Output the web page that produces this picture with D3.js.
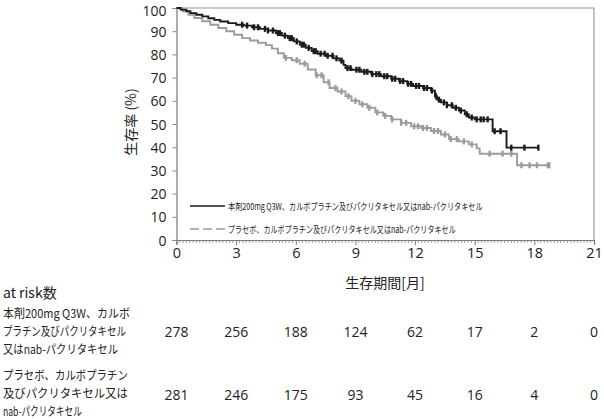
<!DOCTYPE html>
<html><head><meta charset="utf-8">
<script src="https://cdn.jsdelivr.net/npm/d3@7"></script>
<style>body{margin:0;background:#fff}svg{display:block}text{font-family:"Noto Sans CJK JP","Noto Sans",sans-serif;fill:#222}text.num{font-family:"Open Sans","Noto Sans",sans-serif}</style>
</head><body><svg id="c" width="604" height="419"></svg>
<script>
// Kaplan-Meier step data (months, survival %)
const pembroTimes = [0,0.2,0.5,0.7,1.0,1.3,1.6,1.9,2.2,2.6,3.0,3.4,3.8,4.2,4.6,5.0,5.3,5.6,5.9,6.2,6.5,6.8,7.1,7.5,7.9,8.2,8.4,8.5,8.8,9.3,9.8,10.3,10.8,11.2,11.6,11.9,12.4,12.8,13.0,13.1,13.3,13.6,13.9,14.2,14.5,14.7,15.0,15.9,16.6,18.2];
const pembroSurv  = [100,99.3,98.6,97.8,97.1,96.4,95.6,94.9,94.2,93.5,92.8,92.4,91.7,91.0,90.3,89.2,88.1,87.0,85.6,84.2,82.8,81.4,80.3,79.4,78.3,77.3,75.5,74.1,73.4,72.5,71.5,70.6,69.5,68.5,67.3,66.4,65.5,64.4,62.0,60.5,59.3,58.1,57.0,55.8,54.2,52.8,52.0,46.9,39.8,39.8];
const pembroCensor = [3.3,3.55,3.9,4.1,4.45,4.6,4.85,5.1,5.2,5.45,5.7,5.8,6.05,6.3,6.4,6.65,6.9,7.0,7.25,7.45,7.6,7.85,8.05,8.3,8.6,8.75,9.05,9.2,9.45,9.6,9.85,10.05,10.2,10.45,10.6,10.85,11.0,11.25,11.4,11.65,11.8,12.05,12.2,12.45,12.6,12.85,13.05,13.2,13.45,13.6,13.85,14.05,14.3,14.6,14.85,15.1,15.3,15.45,15.65,16.0,16.3,16.84,17.5,18.2];
const placeboTimes = [0,0.3,0.6,0.9,1.3,1.7,2.1,2.5,2.9,3.3,3.7,4.1,4.5,4.8,5.1,5.4,5.8,6.2,6.6,7.0,7.4,7.7,8.1,8.5,8.8,9.2,9.6,10.0,10.4,10.8,11.3,11.8,12.3,12.8,13.3,13.7,14.2,14.7,15.1,15.25,17.13,18.75];
const placeboSurv  = [100,98.6,97.1,95.7,94.3,92.8,91.4,90.0,88.5,87.0,86.0,85.0,84.0,82.5,80.5,78.5,77.5,76.0,73.5,71.0,68.0,65.5,64.0,62.0,60.0,58.5,57.0,55.0,53.5,52.0,50.5,49.0,48.3,47.0,45.5,43.5,42.5,41.2,39.5,37.2,32.2,32.2];
const placeboCensor = [5.5,6.05,6.45,7.05,7.3,7.65,8.0,8.3,8.65,9.0,9.35,9.7,10.1,10.5,10.85,11.3,11.55,11.95,12.15,12.4,12.6,12.95,13.15,13.5,13.8,14.1,14.45,14.85,15.75,16.4,16.84,17.35,17.76,18.13,18.68,18.75];

const xTicks = [0,3,6,9,12,15,18,21];
const yTicks = [0,10,20,30,40,50,60,70,80,90,100];
const riskPembro = [278,256,188,124,62,17,2,0];
const riskPlacebo = [281,246,175,93,45,16,4,0];
const legendLabels = ["本剤200mg Q3W、カルボプラチン及びパクリタキセル又はnab-パクリタキセル","プラセボ、カルボプラチン及びパクリタキセル又はnab-パクリタキセル"];
const rowLabelsPembro = ["本剤200mg Q3W、カルボ","プラチン及びパクリタキセル","又はnab-パクリタキセル"];
const rowLabelsPlacebo = ["プラセボ、カルボプラチン","及びパクリタキセル又は","nab-パクリタキセル"];

const svg = d3.select("#c");
const x = d3.scaleLinear().domain([0,21]).range([176.5,594]);
const y = d3.scaleLinear().domain([0,100]).range([240,8]);

// frame
svg.append("path").attr("d",`M${x(0)},${y(100)}H${x(21)}V${y(0)}`).attr("fill","none").attr("stroke","#9a9a9a").attr("stroke-width",1.2);

// axes
const gx = svg.append("g").attr("transform",`translate(0,${y(0)})`)
  .call(d3.axisBottom(x).tickValues(xTicks).tickSize(5).tickPadding(3));
gx.select(".domain").attr("stroke","#777").attr("stroke-width",1.2);
gx.selectAll(".tick line").attr("stroke","#777");
gx.selectAll("text").attr("class","num").attr("font-size",14.5).attr("fill","#222");
const minor = d3.range(0,126).map(i=>i/6).filter(v=>v<=21 && Math.abs(v-Math.round(v/3)*3)>1e-6);
svg.append("g").selectAll("line").data(minor).join("line")
  .attr("x1",d=>x(d)).attr("x2",d=>x(d)).attr("y1",y(0)).attr("y2",y(0)+3)
  .attr("stroke","#888").attr("stroke-width",0.8);

const gy = svg.append("g").attr("transform",`translate(${x(0)},0)`)
  .call(d3.axisLeft(y).tickValues(yTicks).tickSize(4).tickPadding(6));
gy.select(".domain").attr("stroke","#777").attr("stroke-width",1.2);
gy.selectAll(".tick line").attr("stroke","#888");
gy.selectAll("text").attr("class","num").attr("font-size",14).attr("fill","#222").attr("dy","0.36em");
gy.selectAll(".tick").filter(d=>d===100).select("text").attr("dy","0.55em");

// axis titles
svg.append("text").attr("transform",`translate(136,122) rotate(-90)`).attr("text-anchor","middle")
  .attr("font-size",14).text("生存率 (%)");
svg.append("text").attr("x",385).attr("y",288).attr("text-anchor","middle").attr("font-size",14).text("生存期間[月]");

// curves
function stepData(t,s){return t.map((d,i)=>[d,s[i]]);}
function survAt(t,s,v){const i=d3.bisectRight(t,v)-1;return s[Math.max(0,i)];}
const line = d3.line().x(d=>x(d[0])).y(d=>y(d[1])).curve(d3.curveStepAfter);
const series = [
  {t:placeboTimes,s:placeboSurv,c:placeboCensor,color:"#9c9c9c"},
  {t:pembroTimes,s:pembroSurv,c:pembroCensor,color:"#1a1a1a"}
];
series.forEach(sr=>{
  svg.append("path").datum(stepData(sr.t,sr.s)).attr("d",line).attr("fill","none")
    .attr("stroke",sr.color).attr("stroke-width",1.9);
  svg.append("g").selectAll("line").data(sr.c).join("line")
    .attr("x1",d=>x(d)).attr("x2",d=>x(d))
    .attr("y1",d=>y(survAt(sr.t,sr.s,d))-3).attr("y2",d=>y(survAt(sr.t,sr.s,d))+3)
    .attr("stroke",sr.color).attr("stroke-width",2.4);
});

// squeezed text helper (keeps glyph height, narrows width)
function squeezed(xp,yp,size,width,txt){
  const t = svg.append("text").attr("font-size",size).text(txt);
  const nat = t.node().getComputedTextLength();
  t.attr("transform",`translate(${xp},${yp}) scale(${width/nat},1)`);
  return t;
}

// legend
svg.append("line").attr("x1",190).attr("x2",225).attr("y1",206).attr("y2",206).attr("stroke","#1a1a1a").attr("stroke-width",1.6);
svg.append("line").attr("x1",190).attr("x2",225).attr("y1",229).attr("y2",229).attr("stroke","#9c9c9c").attr("stroke-width",1.6).attr("stroke-dasharray","9,4");
squeezed(228,209.5,9.5,255,legendLabels[0]);
squeezed(228,232.5,9.5,228,legendLabels[1]);

// at risk table
svg.append("text").attr("x",3).attr("y",298).attr("font-size",14).text("at risk数");
const w1=[127,123,115], w2=[125,125,79];
const ly1=[317.5,335.5,353.5], ly2=[379.5,397.5,415.5];
rowLabelsPembro.forEach((l,i)=>squeezed(3,ly1[i],12,w1[i],l));
rowLabelsPlacebo.forEach((l,i)=>squeezed(3,ly2[i],12,w2[i],l));
svg.append("g").selectAll("text").data(riskPembro).join("text").attr("class","num").attr("x",(d,i)=>x(xTicks[i])).attr("y",337)
  .attr("text-anchor","middle").attr("font-size",14).text(d=>d);
svg.append("g").selectAll("text").data(riskPlacebo).join("text").attr("class","num").attr("x",(d,i)=>x(xTicks[i])).attr("y",400)
  .attr("text-anchor","middle").attr("font-size",14).text(d=>d);
</script></body></html>
